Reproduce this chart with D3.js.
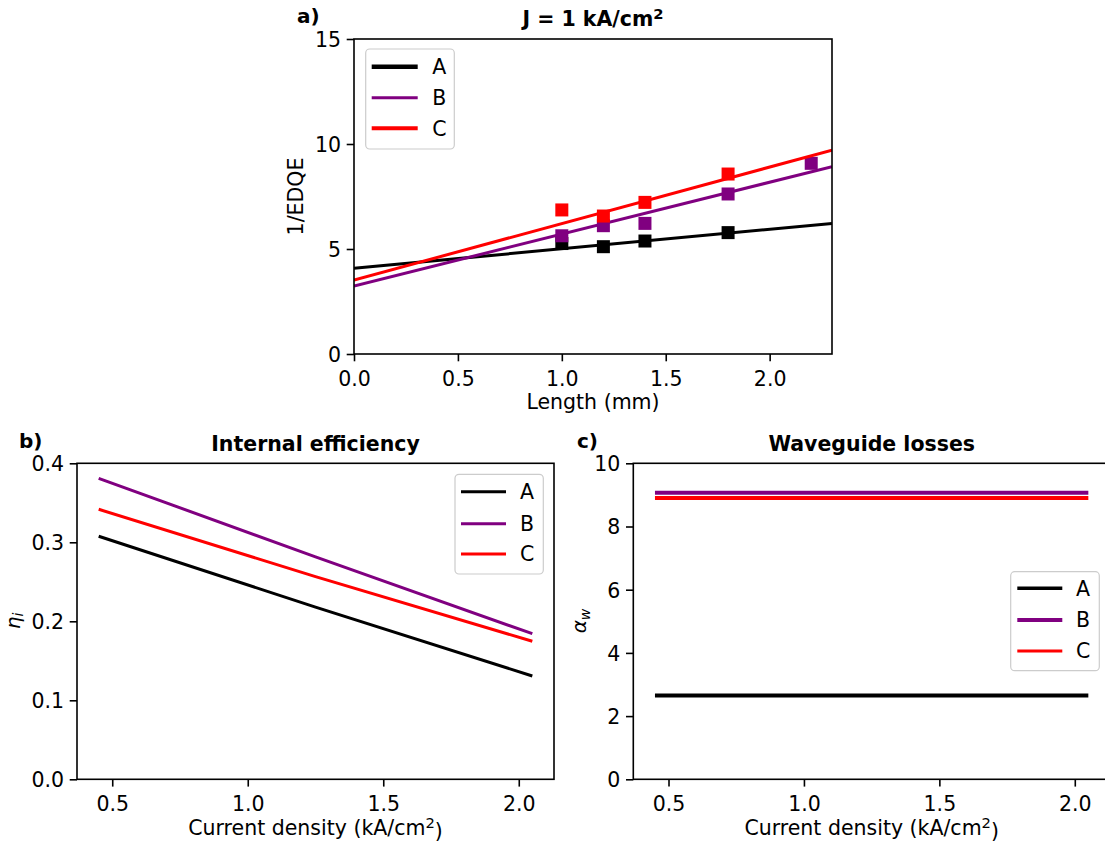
<!DOCTYPE html>
<html><head><meta charset="utf-8">
<script src="https://cdn.jsdelivr.net/npm/d3@7"></script>
<style>
body{margin:0;background:#fff;}
svg{display:block;font-family:"DejaVu Sans",sans-serif;}
</style></head><body>
<svg id="chart" width="1105" height="845"></svg>
<script>
// ---------- data ----------
const sampleNames = ["A", "B", "C"];
const sampleColors = ["#000000", "#800080", "#ff0000"];

// panel a) 1/EDQE vs cavity length at J = 1 kA/cm2
const lengthsMM = [1.0, 1.2, 1.4, 1.8, 2.2];
const invEdqeA = [5.26, 5.11, 5.38, 5.78, null];
const invEdqeB = [5.63, 6.11, 6.22, 7.62, 9.08];
const invEdqeC = [6.86, 6.57, 7.22, 8.57, null];
const fitLengthMM = [0, 2.3];
const fitA = [4.08, 6.22];
const fitB = [3.24, 8.92];
const fitC = [3.52, 9.71];

// panel b) internal efficiency vs current density
const currentDensity = [0.45, 1.25, 2.05];
const etaA = [0.3076, 0.2180, 0.1308];
const etaB = [0.3810, 0.2815, 0.1843];
const etaC = [0.3418, 0.2565, 0.1747];

// panel c) waveguide losses vs current density
const alphaA = [2.65, 2.65, 2.65];
const alphaB = [9.07, 9.07, 9.07];
const alphaC = [8.90, 8.90, 8.90];

// tick labels
const ticksLength = [0, 0.5, 1.0, 1.5, 2.0];
const ticksInvEdqe = [0, 5, 10, 15];
const ticksJ = [0.5, 1.0, 1.5, 2.0];
const ticksEta = [0.0, 0.1, 0.2, 0.3, 0.4];
const ticksAlpha = [0, 2, 4, 6, 8, 10];

// ---------- drawing ----------
const svg = d3.select("#chart");
const FS = 20.5;

function makePanel(cfg) {
  const g = svg.append("g");
  const x = d3.scaleLinear().domain(cfg.xDomain).range([cfg.left, cfg.right]);
  const y = d3.scaleLinear().domain(cfg.yDomain).range([cfg.bottom, cfg.top]);

  const xa = g.append("g").attr("transform", `translate(0,${cfg.bottom})`)
    .call(d3.axisBottom(x).tickValues(cfg.xTicks).tickFormat(cfg.xFmt).tickSize(7.3).tickPadding(10.1));
  const ya = g.append("g").attr("transform", `translate(${cfg.left},0)`)
    .call(d3.axisLeft(y).tickValues(cfg.yTicks).tickFormat(cfg.yFmt).tickSize(7.3).tickPadding(5.7));
  [xa, ya].forEach(a => {
    a.select(".domain").remove();
    a.selectAll(".tick line").attr("stroke", "#000").attr("stroke-width", 1.6);
    a.selectAll(".tick text").attr("fill", "#000").attr("font-size", FS).attr("font-family", "DejaVu Sans");
  });
  ya.selectAll(".tick text").attr("dy", "0.36em");

  const clipId = "clip" + Math.random().toString(36).slice(2);
  g.append("clipPath").attr("id", clipId).append("rect")
    .attr("x", cfg.left).attr("y", cfg.top).attr("width", cfg.right - cfg.left).attr("height", cfg.bottom - cfg.top);
  const plot = g.append("g").attr("clip-path", `url(#${clipId})`);
  const spine = g.append("rect")
    .attr("x", cfg.left).attr("y", cfg.top).attr("width", cfg.right - cfg.left).attr("height", cfg.bottom - cfg.top)
    .attr("fill", "none").attr("stroke", "#000").attr("stroke-width", 1.6);
  return {g, x, y, plot, spine};
}

function drawLine(p, xs, ys, color, width) {
  const pts = xs.map((d, i) => [d, ys[i]]).filter(d => d[1] != null);
  p.plot.append("path").datum(pts)
    .attr("d", d3.line().x(d => p.x(d[0])).y(d => p.y(d[1])))
    .attr("fill", "none").attr("stroke", color).attr("stroke-width", width);
}
function drawSquares(p, xs, ys, color, size) {
  const pts = xs.map((d, i) => [d, ys[i]]).filter(d => d[1] != null);
  p.plot.selectAll(null).data(pts).enter().append("rect")
    .attr("x", d => p.x(d[0]) - size / 2).attr("y", d => p.y(d[1]) - size / 2)
    .attr("width", size).attr("height", size).attr("fill", color);
}
function drawLegend(box, lineX0, lineX1, textX, rows, widths) {
  svg.append("rect").attr("x", box[0]).attr("y", box[1]).attr("width", box[2] - box[0]).attr("height", box[3] - box[1])
    .attr("rx", 4).attr("fill", "#fff").attr("fill-opacity", 0.8).attr("stroke", "#cccccc").attr("stroke-width", 1.2);
  sampleNames.forEach((n, i) => {
    svg.append("line").attr("x1", lineX0).attr("x2", lineX1).attr("y1", rows[i]).attr("y2", rows[i])
      .attr("stroke", sampleColors[i]).attr("stroke-width", widths[i]);
    svg.append("text").attr("x", textX).attr("y", rows[i]).attr("dy", "0.36em")
      .attr("font-size", FS).text(n);
  });
}
function title(x, y, parts) {
  const t = svg.append("text").attr("x", x).attr("y", y).attr("text-anchor", "middle")
    .attr("font-size", FS).attr("font-weight", "bold");
  parts(t);
}
function supLabel(t, main, sup, tail) {
  t.append("tspan").text(main);
  t.append("tspan").attr("dy", "-0.45em").attr("font-size", "72%").text(sup);
  t.append("tspan").attr("dy", "0.45em").text(tail);
}

// ----- panel a -----
const pa = makePanel({left: 354, right: 832, top: 39, bottom: 354,
  xDomain: [0, 2.3], yDomain: [0, 15], xTicks: ticksLength, yTicks: ticksInvEdqe,
  xFmt: d3.format(".1f"), yFmt: d3.format("d")});
const invEdqe = [invEdqeA, invEdqeB, invEdqeC];
const fits = [fitA, fitB, fitC];
sampleNames.forEach((n, i) => {
  drawLine(pa, fitLengthMM, fits[i], sampleColors[i], 3);
  drawSquares(pa, lengthsMM, invEdqe[i], sampleColors[i], 13);
});
pa.spine.raise();
drawLegend([365.7, 49, 454.3, 149], 371.7, 417.7, 432.3, [66.7, 97.7, 128.3], [4.5, 3, 4]);
title(593, 26, t => supLabel(t, "J = 1 kA/cm", "2", ""));
svg.append("text").attr("x", 297).attr("y", 23).attr("font-size", 20).attr("font-weight", "bold").text("a)");
svg.append("text").attr("transform", "translate(303,196.5) rotate(-90)").attr("text-anchor", "middle")
  .attr("font-size", FS).text("1/EDQE");
svg.append("text").attr("x", 593).attr("y", 409).attr("text-anchor", "middle").attr("font-size", FS).text("Length (mm)");

// ----- panel b -----
const pb = makePanel({left: 77, right: 554, top: 463.3, bottom: 779.3,
  xDomain: [0.37, 2.13], yDomain: [0, 0.4], xTicks: ticksJ, yTicks: ticksEta,
  xFmt: d3.format(".1f"), yFmt: d3.format(".1f")});
const etas = [etaA, etaB, etaC];
sampleNames.forEach((n, i) => drawLine(pb, currentDensity, etas[i], sampleColors[i], 3));
pb.spine.raise();
drawLegend([455, 474.3, 543.3, 574], 461, 506, 520, [491.7, 523.7, 554], [3, 3, 3]);
title(315.5, 451, t => t.text("Internal efficiency"));
svg.append("text").attr("x", 19).attr("y", 448).attr("font-size", 20).attr("font-weight", "bold").text("b)");
{
  const t = svg.append("text").attr("transform", "translate(19.5,621) rotate(-90)").attr("text-anchor", "middle")
    .attr("font-size", 20).attr("font-style", "italic");
  t.append("tspan").text("η");
  t.append("tspan").attr("dy", "0.25em").attr("font-size", "70%").text("i");
}
{
  const t = svg.append("text").attr("x", 315.5).attr("y", 835).attr("text-anchor", "middle").attr("font-size", FS);
  supLabel(t, "Current density (kA/cm", "2", ")");
}

// ----- panel c -----
const pc = makePanel({left: 633.3, right: 1110, top: 463.3, bottom: 779.3,
  xDomain: [0.37, 2.13], yDomain: [0, 10], xTicks: ticksJ, yTicks: ticksAlpha,
  xFmt: d3.format(".1f"), yFmt: d3.format("d")});
const alphas = [alphaA, alphaB, alphaC];
sampleNames.forEach((n, i) => drawLine(pc, currentDensity, alphas[i], sampleColors[i], 4));
pc.spine.raise();
drawLegend([1010.7, 571.7, 1099.3, 670.7], 1017.3, 1062.3, 1076, [588.3, 620, 651], [3.5, 4, 3]);
title(871.7, 451, t => t.text("Waveguide losses"));
svg.append("text").attr("x", 577).attr("y", 448).attr("font-size", 20).attr("font-weight", "bold").text("c)");
{
  const t = svg.append("text").attr("transform", "translate(586,621) rotate(-90)").attr("text-anchor", "middle")
    .attr("font-size", 20).attr("font-style", "italic");
  t.append("tspan").text("α");
  t.append("tspan").attr("dy", "0.25em").attr("font-size", "70%").text("w");
}
{
  const t = svg.append("text").attr("x", 871.7).attr("y", 835).attr("text-anchor", "middle").attr("font-size", FS);
  supLabel(t, "Current density (kA/cm", "2", ")");
}
</script>
</body></html>
